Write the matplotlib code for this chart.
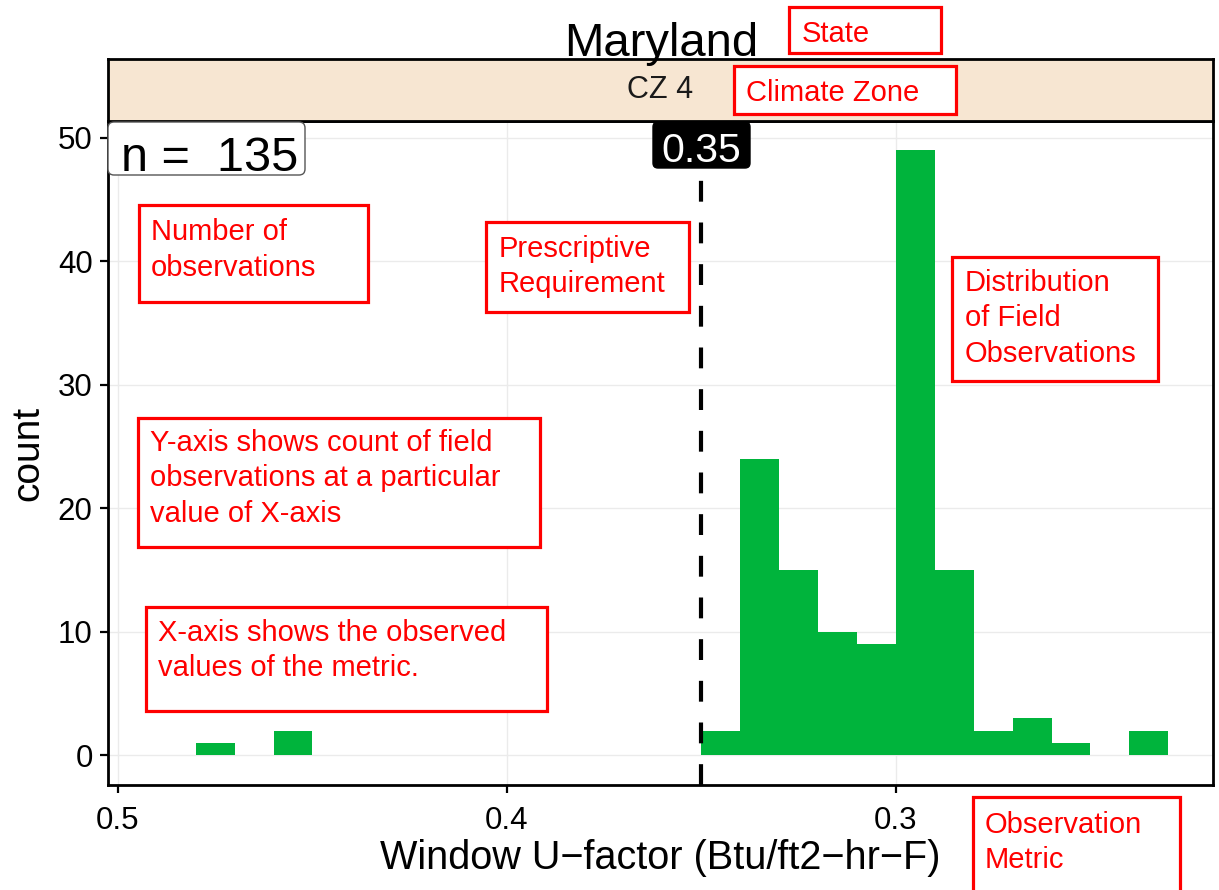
import numpy as np
import matplotlib
matplotlib.use("Agg")
import matplotlib.pyplot as plt
from matplotlib.patches import Rectangle, FancyBboxPatch

plt.rcParams['font.family'] = ['Liberation Sans', 'DejaVu Sans']

# histogram of window U-factor, bin width 0.01
bin_centers = [0.475, 0.455, 0.345, 0.335, 0.325, 0.315, 0.305, 0.295, 0.285, 0.275, 0.265, 0.255, 0.235]
counts = [1, 2, 2, 24, 15, 10, 9, 49, 15, 2, 3, 1, 2]
requirement = 0.35
state = "Maryland"
zone = "CZ 4"
xticks = [0.5, 0.4, 0.3]
xticklabels = ["0.5", "0.4", "0.3"]
yticks = [0, 10, 20, 30, 40, 50]

W, H = 1219, 890
fig = plt.figure(figsize=(W / 100, H / 100), dpi=100)

def fx(x):
    return x / W

def fy(y):
    return 1 - y / H

ax = fig.add_axes([fx(108), fy(785), fx(1213) - fx(108), fy(121) - fy(785)])
ax.bar(bin_centers, counts, width=0.01, color='#00B43C', zorder=2)
ax.set_xlim(0.50257, 0.2185)
ax.set_ylim(-2.39, 51.34)
ax.set_xticks(xticks)
ax.set_xticklabels(xticklabels)
ax.set_yticks(yticks)
ax.grid(True, color='#ebebeb', lw=1, zorder=0)
ax.set_axisbelow(True)
for s in ax.spines.values():
    s.set_linewidth(2)
    s.set_color('black')
ax.tick_params(direction='out', length=6, width=1.6, labelsize=22.5, pad=5, colors='black')
ax.tick_params(axis='x', pad=9)
ax.set_xlabel("Window U\u2212factor (Btu/ft2\u2212hr\u2212F)", fontsize=28.5, labelpad=2)
ax.set_ylabel("count", fontsize=28, labelpad=8)

# prescriptive requirement line
ax.axvline(requirement, color='black', lw=3, ls=(0, (5, 5)), zorder=3)
fig.add_artist(FancyBboxPatch((653, H - 168), 97, 46, boxstyle='round,pad=0,rounding_size=5',
                              transform=None, fc='black', ec='black', zorder=6))
fig.text(fx(701.5), fy(162), "%.2f" % requirement, ha='center', va='baseline',
         fontsize=29.5, color='white', zorder=7)

# number of observations
fig.add_artist(FancyBboxPatch((108, H - 175), 197, 53, boxstyle='round,pad=0,rounding_size=6',
                              transform=None, fc='white', ec='#555555', lw=1, zorder=6))
fig.text(fx(121), fy(171), "n =  %d" % sum(counts), ha='left', va='baseline',
         fontsize=35, color='black', zorder=7)

# strip and title
sax = fig.add_axes([fx(108), fy(121), fx(1213) - fx(108), fy(59) - fy(121)])
sax.set_facecolor('#F7E6D2')
sax.set_xticks([])
sax.set_yticks([])
for s in sax.spines.values():
    s.set_linewidth(2)
sax.text(0.5, 0.5, zone, ha='center', va='center', fontsize=22, color='#1a1a1a', transform=sax.transAxes)
fig.text(fx(661), fy(56), state, ha='center', va='baseline', fontsize=34, color='black')

# red call-out boxes
notes = [
    (789, 7, 941, 53, 802, 42, ["State"]),
    (734, 66, 956, 114, 746, 101, ["Climate Zone"]),
    (139, 205, 368, 302, 151, 240, ["Number of", "observations"]),
    (486, 222, 689, 312, 499, 257, ["Prescriptive", "Requirement"]),
    (952, 257, 1158, 381, 965, 291, ["Distribution", "of Field", "Observations"]),
    (138, 418, 540, 547, 150, 451, ["Y-axis shows count of field", "observations at a particular", "value of X-axis"]),
    (146, 607, 547, 711, 158, 641, ["X-axis shows the observed", "values of the metric."]),
    (973, 797, 1180, 900, 985, 833, ["Observation", "Metric"]),
]
for x0, y0, x1, y1, tx, ty, lines in notes:
    fig.add_artist(Rectangle((fx(x0), fy(y1)), fx(x1) - fx(x0), fy(y0) - fy(y1),
                             transform=fig.transFigure, fc='white', ec='#FF0000', lw=2.3, zorder=10))
    for i, line in enumerate(lines):
        fig.text(fx(tx), fy(ty + 35.5 * i), line, ha='left', va='baseline', fontsize=21,
                 color='#FF0000', zorder=11)

plt.savefig("out.png", dpi=100)
plt.close()
